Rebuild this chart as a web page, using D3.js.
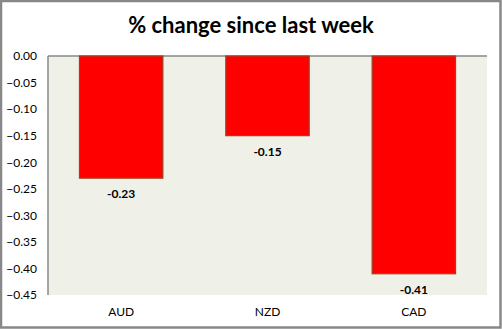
<!DOCTYPE html>
<html><head><meta charset="utf-8">
<script src="https://cdn.jsdelivr.net/npm/d3@7"></script>
<style>
html,body{margin:0;padding:0;background:#fff;}
svg{display:block;}
text{font-family:Lato,"Open Sans",sans-serif;}
</style></head>
<body><svg id="c" width="502" height="329"></svg>
<script>
const categories = ["AUD","NZD","CAD"];
const values = [-0.23,-0.15,-0.41];
const yTicks = [0,-0.05,-0.10,-0.15,-0.20,-0.25,-0.30,-0.35,-0.40,-0.45];
const title = "% change since last week";

const svg = d3.select("#c");
const W=502,H=329;
const m={left:48,right:15,top:56,bottom:34};
const pw=W-m.left-m.right, ph=H-m.top-m.bottom;

svg.append("rect").attr("x",1).attr("y",1).attr("width",W-2.5).attr("height",H-2.5)
  .attr("fill","#fff").attr("stroke","#888").attr("stroke-width",2.5);

svg.append("text").attr("x",251).attr("y",33).attr("text-anchor","middle")
  .attr("font-size",22).attr("font-weight","bold").attr("fill","#000").text(title);

const x=d3.scaleBand().domain(categories).range([m.left,m.left+pw]).paddingInner(0.43).paddingOuter(0.215);
const y=d3.scaleLinear().domain([0,-0.45]).range([m.top,m.top+ph]);

svg.append("rect").attr("x",m.left).attr("y",m.top).attr("width",pw).attr("height",ph).attr("fill","#EFF0E8");
svg.append("line").attr("x1",m.left).attr("x2",m.left+pw).attr("y1",m.top).attr("y2",m.top).attr("stroke","#888").attr("stroke-width",1.5);
svg.append("line").attr("x1",m.left).attr("x2",m.left).attr("y1",m.top).attr("y2",m.top+ph).attr("stroke","#888").attr("stroke-width",1.5);

const yAxis=svg.append("g").attr("transform",`translate(${m.left},0)`)
  .call(d3.axisLeft(y).tickValues(yTicks).tickFormat(d3.format(".2f")).tickSize(0).tickPadding(11));
yAxis.select(".domain").remove();
yAxis.selectAll("text").attr("font-size",12).attr("fill","#000").attr("font-family","Lato,'Open Sans',sans-serif");

const xAxis=svg.append("g").attr("transform",`translate(0,${m.top+ph})`)
  .call(d3.axisBottom(x).tickSize(0).tickPadding(12));
xAxis.select(".domain").remove();
xAxis.selectAll("text").attr("font-size",12).attr("fill","#000").attr("font-family","Lato,'Open Sans',sans-serif");

svg.selectAll(".bar").data(values).enter().append("rect")
  .attr("x",(d,i)=>x(categories[i])).attr("y",y(0))
  .attr("width",x.bandwidth()).attr("height",d=>y(d)-y(0))
  .attr("fill","#FF0000").attr("stroke","#A0401E").attr("stroke-width",1.2);

svg.selectAll(".lbl").data(values).enter().append("text")
  .attr("x",(d,i)=>x(categories[i])+x.bandwidth()/2).attr("y",d=>y(d)+20)
  .attr("text-anchor","middle").attr("font-size",12).attr("font-weight","bold").attr("fill","#000")
  .text(d=>d.toFixed(2));
</script></body></html>
